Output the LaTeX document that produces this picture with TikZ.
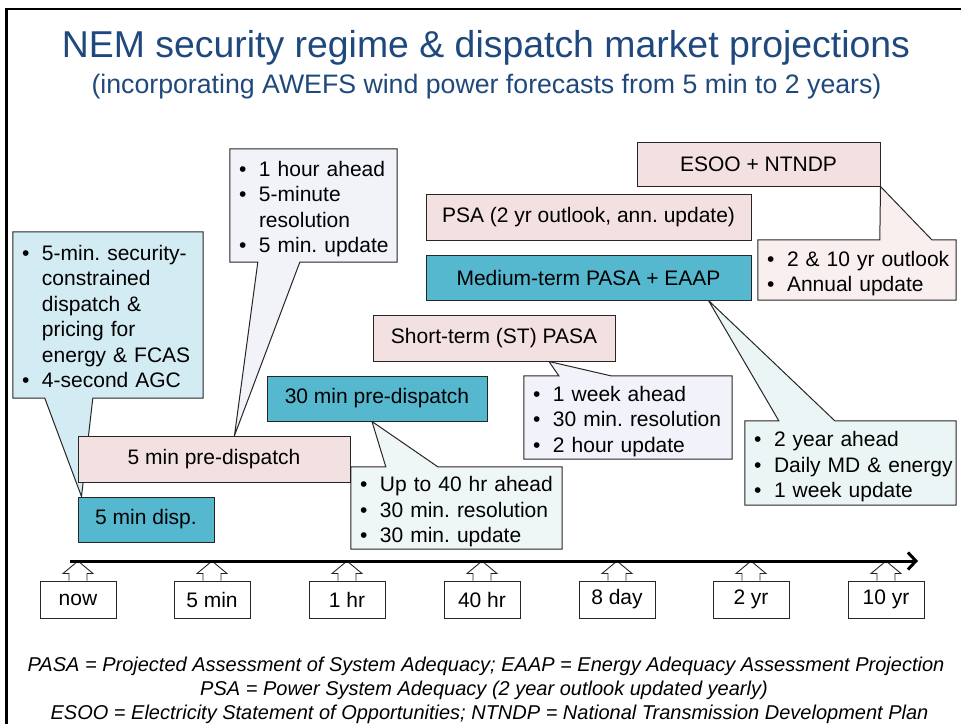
\documentclass[tikz,border=0pt]{standalone}
\usepackage{fontspec}
\setmainfont{Liberation Sans}
\usetikzlibrary{calc,backgrounds,arrows.meta}
\definecolor{boxteal}{HTML}{55B8CF}
\definecolor{boxpink}{HTML}{F3E0E0}
\definecolor{titleblue}{RGB}{31,73,125}
\definecolor{fillA}{HTML}{D3EBF2}
\definecolor{fillB}{HTML}{F2F3F9}
\definecolor{fillC}{HTML}{EEF6F6}
\definecolor{fillD}{HTML}{F2F2FA}
\definecolor{fillE}{HTML}{ECF5F5}
\definecolor{fillF}{HTML}{FAEFEF}
\newcommand\bodyfont{\fontsize{21}{25.5}\selectfont}
\newcommand\bi{\makebox[20pt][l]{\textbullet}}
\newcommand\ctext[1]{\raisebox{-4pt}[\height][\depth]{#1}}
\frenchspacing
\begin{document}
\frenchspacing
\begin{tikzpicture}[x=1pt,y=-1pt,
  every node/.style={font=\bodyfont, inner sep=0pt},
  box/.style={draw=black!85, line width=1pt, minimum height=45},
  tealbox/.style={box, fill=boxteal},
  pinkbox/.style={box, fill=boxpink},
  callbox/.style={inner xsep=9pt, inner ysep=0pt, align=left},
  callline/.style={draw=black!85, line width=1pt, line join=miter},
  tick/.style={draw=black!85, line width=1pt, fill=white, minimum width=76, minimum height=37},
  tickarrow/.style={draw=black!85, line width=0.9pt, fill=white, line join=miter},
  axis/.style={line width=3pt, -{Straight Barb[length=8pt,width=17pt]}},
  footer/.style={font=\fontsize{20}{24}\selectfont\itshape, anchor=base}
]
\useasboundingbox (0,0) rectangle (961,724);

% frame
\draw[line width=2.2pt] (6.5,724) -- (6.5,9) -- (961,9);

% title
\node[font=\fontsize{37.4}{42}\selectfont, text=titleblue, anchor=base] (title) at (486,57)
  {NEM security regime \& dispatch market projections};
\node[font=\fontsize{26.7}{30}\selectfont, text=titleblue, anchor=base] (subtitle) at (486.5,93)
  {(incorporating AWEFS wind power forecasts from 5 min to 2 years)};

% main boxes
\node[tealbox, minimum width=136] (disp) at (146,519.5) {5 min disp.};
\node[pinkbox, minimum width=272, minimum height=46] (pre5) at (214,459) {5 min pre-dispatch};
\node[tealbox, minimum width=220] (pre30) at (377,398.5) {30 min pre-dispatch};
\node[pinkbox, minimum width=242, minimum height=46] (stpasa) at (494,338) {Short-term (ST) PASA};
\node[pinkbox, minimum width=325, minimum height=46] (psa) at (588.5,217) {PSA (2 yr outlook, ann. update)};
\node[tealbox, minimum width=325] (mtpasa) at (588.5,277.5) {Medium-term PASA + EAAP};
\node[pinkbox, minimum width=243, minimum height=44] (esoo) at (758.5,164) {ESOO + NTNDP};

% callout texts
\node[callbox, text width=172, minimum height=166] (cA) at (108,315)
  {\ctext{\begin{tabular}{@{}l@{}l@{}}
   \bi & 5-min. security-\\
       & constrained\\
       & dispatch \&\\
       & pricing for\\
       & energy \& FCAS\\
   \bi & 4-second AGC
   \end{tabular}}};
\node[callbox, text width=149, minimum height=113] (cB) at (313.5,205.5)
  {\ctext{\begin{tabular}{@{}l@{}l@{}}
   \bi & 1 hour ahead\\
   \bi & 5-minute\\
       & resolution\\
   \bi & 5 min. update
   \end{tabular}}};
\node[callbox, text width=193, minimum height=82] (cC) at (456.5,508)
  {\ctext{\begin{tabular}{@{}l@{}l@{}}
   \bi & Up to 40 hr ahead\\
   \bi & 30 min. resolution\\
   \bi & 30 min. update
   \end{tabular}}};
\node[callbox, text width=190, minimum height=83] (cD) at (628,417.5)
  {\ctext{\begin{tabular}{@{}l@{}l@{}}
   \bi & 1 week ahead\\
   \bi & 30 min. resolution\\
   \bi & 2 hour update
   \end{tabular}}};
\node[callbox, text width=193, minimum height=84] (cE) at (850.5,463)
  {\ctext{\begin{tabular}{@{}l@{}l@{}}
   \bi & 2 year ahead\\
   \bi & Daily MD \& energy\\
   \bi & 1 week update
   \end{tabular}}};
\node[callbox, text width=180, minimum height=60] (cF) at (857,270)
  {\ctext{\begin{tabular}{@{}l@{}l@{}}
   \bi & 2 \& 10 yr outlook\\
   \bi & Annual update
   \end{tabular}}};

% callout shapes (behind)
\begin{scope}[on background layer]
\path[callline, fill=fillA] (cA.north west) -- (cA.north east) -- (cA.south east)
  -- ($(cA.south west)+(80,0)$) -- ($(disp.north west)+(4,0)$)
  -- ($(cA.south west)+(32,0)$) -- (cA.south west) -- cycle;
\path[callline, fill=fillB] (cB.north west) -- (cB.north east) -- (cB.south east)
  -- ($(cB.south west)+(70,0)$) -- ($(pre5.north west)+(157,0)$)
  -- ($(cB.south west)+(28,0)$) -- (cB.south west) -- cycle;
\path[callline, fill=fillC] (cC.north west) -- ($(cC.north west)+(35,0)$)
  -- ($(pre30.south)+(-5,0)$) -- ($(cC.north west)+(87,0)$)
  -- (cC.north east) -- (cC.south east) -- (cC.south west) -- cycle;
\path[callline, fill=fillD] (cD.north west) -- ($(cD.north west)+(35,0)$)
  -- ($(stpasa.south)+(55,0)$) -- ($(cD.north west)+(87,0)$)
  -- (cD.north east) -- (cD.south east) -- (cD.south west) -- cycle;
\path[callline, fill=fillE] (cE.north west) -- ($(cE.north west)+(34,0)$)
  -- ($(mtpasa.south)+(120,0)$) -- ($(cE.north west)+(90,0)$)
  -- (cE.north east) -- (cE.south east) -- (cE.south west) -- cycle;
\path[callline, fill=fillF] (cF.north west) -- ($(cF.north west)+(122,0)$)
  -- (esoo.south east) -- ($(cF.north west)+(174,0)$)
  -- (cF.north east) -- (cF.south east) -- (cF.south west) -- cycle;
\end{scope}

% time axis
\coordinate (axL) at (70,561);
\coordinate (axR) at (918,561);
\foreach \n/\x/\t in {k0/78/now, k1/212/5 min, k2/347/1 hr, k3/482/40 hr, k4/617/8 day, k5/751/2 yr, k6/886/10 yr}{
  \node[tick] (\n) at (\x,599.5) {\t};
  \path[tickarrow] ($(\n.north)+(-9,0)$) -- ($(\n.north)+(-9,-7)$) -- ($(\n.north)+(-15,-7)$)
    -- (\n.north |- axL) -- ($(\n.north)+(15,-7)$) -- ($(\n.north)+(9,-7)$)
    -- ($(\n.north)+(9,0)$);
}
\draw[axis] (axL) -- (axR);

% footer
\node[footer] (f1) at (486,671) {PASA = Projected Assessment of System Adequacy; EAAP = Energy Adequacy Assessment Projection};
\node[footer] (f2) at (484,695) {PSA = Power System Adequacy (2 year outlook updated yearly)};
\node[footer] (f3) at (489.5,719) {ESOO = Electricity Statement of Opportunities; NTNDP = National Transmission Development Plan};
\end{tikzpicture}
\end{document}
